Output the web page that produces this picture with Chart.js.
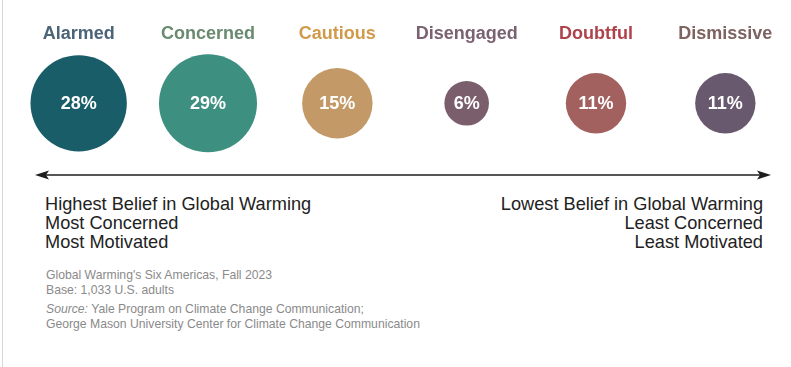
<!DOCTYPE html>
<html>
<head>
<meta charset="utf-8">
<script src="https://cdn.jsdelivr.net/npm/chart.js@4/dist/chart.umd.min.js"></script>
<style>
  html, body { margin: 0; padding: 0; background: #fff; }
  body { width: 791px; height: 367px; position: relative; overflow: hidden;
         font-family: "Liberation Sans", Arial, Helvetica, sans-serif; }
  #edge { position: absolute; left: 2px; top: 0; width: 1px; height: 367px; background: #d6d6d6; }
  #chart { position: absolute; left: 0; top: 0; }
  .scale { position: absolute; top: 195px; font-size: 18.2px; line-height: 19.2px; color: #222; }
  #left { left: 45px; }
  #right { right: 28px; text-align: right; }
  #notes { position: absolute; left: 46px; top: 268px; font-size: 12.2px; line-height: 14.5px; color: #8a8a8a; }
  #notes .src { margin-top: 5px; }
</style>
</head>
<body>
<div id="edge"></div>
<canvas id="chart" width="791" height="190"></canvas>
<div class="scale" id="left">Highest Belief in Global Warming<br>Most Concerned<br>Most Motivated</div>
<div class="scale" id="right">Lowest Belief in Global Warming<br>Least Concerned<br>Least Motivated</div>
<div id="notes">
  <div>Global Warming's Six Americas, Fall 2023<br>Base: 1,033 U.S. adults</div>
  <div class="src"><i>Source:</i> Yale Program on Climate Change Communication;<br>George Mason University Center for Climate Change Communication</div>
</div>
<script>
// Six Americas - share of U.S. adults (%)
const segments = ['Alarmed', 'Concerned', 'Cautious', 'Disengaged', 'Doubtful', 'Dismissive'];
const shares = [28, 29, 15, 6, 11, 11];

const bubbleColors = ['#185d68', '#3d8f80', '#c39a67', '#7b5e6b', '#a2615f', '#69596e'];
const labelColors = ['#4b6478', '#6a8a70', '#d1994a', '#7a6270', '#ae434b', '#7d6461'];

// bubble area follows the share
const radiusFor = v => 9.1 * Math.sqrt(v);

// percentage inside each circle
const valueLabels = {
    id: 'valueLabels',
    afterDatasetsDraw(chart) {
        const ctx = chart.ctx;
        const meta = chart.getDatasetMeta(0);
        ctx.save();
        ctx.fillStyle = '#ffffff';
        ctx.font = 'bold 18px "Liberation Sans", Arial, sans-serif';
        ctx.textAlign = 'center';
        ctx.textBaseline = 'middle';
        meta.data.forEach((el, i) => {
            ctx.fillText(shares[i] + '%', el.x, el.y + 1);
        });
        ctx.restore();
    }
};

// double-headed arrow under the circles
const scaleArrow = {
    id: 'scaleArrow',
    afterDraw(chart) {
        const ctx = chart.ctx;
        const y = 175, x0 = 35, x1 = 771;
        ctx.save();
        ctx.strokeStyle = '#1e1e1e';
        ctx.fillStyle = '#1e1e1e';
        ctx.lineWidth = 1.5;
        ctx.beginPath();
        ctx.moveTo(x0 + 8, y);
        ctx.lineTo(x1 - 8, y);
        ctx.stroke();
        ctx.beginPath();
        ctx.moveTo(x0, y);
        ctx.lineTo(x0 + 14, y - 4.5);
        ctx.lineTo(x0 + 11, y);
        ctx.lineTo(x0 + 14, y + 4.5);
        ctx.closePath();
        ctx.fill();
        ctx.beginPath();
        ctx.moveTo(x1, y);
        ctx.lineTo(x1 - 14, y - 4.5);
        ctx.lineTo(x1 - 11, y);
        ctx.lineTo(x1 - 14, y + 4.5);
        ctx.closePath();
        ctx.fill();
        ctx.restore();
    }
};

new Chart(document.getElementById('chart'), {
    type: 'bubble',
    data: {
        labels: segments,
        datasets: [{
            data: segments.map((s, i) => ({ x: s, y: 0, v: shares[i] })),
            backgroundColor: bubbleColors,
            borderWidth: 0,
            radius: ctx => radiusFor(ctx.raw.v),
            clip: false
        }]
    },
    options: {
        responsive: false,
        animation: false,
        events: [],
        layout: { autoPadding: false, padding: { left: 14, right: 1, top: 20, bottom: 31 } },
        plugins: { legend: { display: false }, tooltip: { enabled: false } },
        scales: {
            x: {
                type: 'category',
                position: 'top',
                offset: true,
                grid: { display: false, drawTicks: false },
                border: { display: false },
                ticks: {
                    padding: 3,
                    color: labelColors,
                    font: { size: 18, weight: 'bold', family: '"Liberation Sans", Arial, sans-serif' }
                }
            },
            y: { display: false, min: -1, max: 1 }
        }
    },
    plugins: [valueLabels, scaleArrow]
});
</script>
</body>
</html>
